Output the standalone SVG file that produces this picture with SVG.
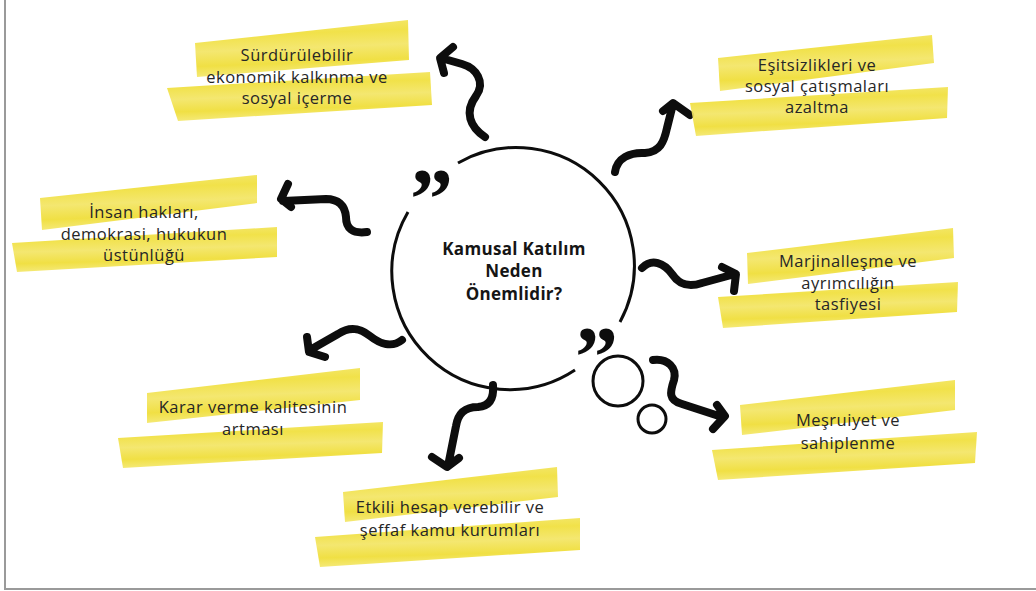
<svg xmlns="http://www.w3.org/2000/svg" width="1036" height="591" viewBox="0 0 1036 591">
<defs>
<linearGradient id="brush" x1="0" y1="0" x2="0.15" y2="1">
<stop offset="0" stop-color="#f4e76e"/>
<stop offset="0.3" stop-color="#f0df3a"/>
<stop offset="0.55" stop-color="#f3e564"/>
<stop offset="0.8" stop-color="#efdd34"/>
<stop offset="1" stop-color="#f4e86f"/>
</linearGradient>
</defs>
<style>
.band{fill:url(#brush);opacity:.92}
.lbl{font-family:"Open Sans","Noto Sans",sans-serif;font-size:16.5px;letter-spacing:.5px;fill:#262626;text-anchor:middle}
.ctr{font-family:"Open Sans","Noto Sans",sans-serif;font-size:17px;font-weight:bold;letter-spacing:.3px;fill:#151515;text-anchor:middle}
.arr{fill:none;stroke:#0d0d0d;stroke-width:8;stroke-linecap:round;stroke-linejoin:round}
.ring{fill:none;stroke:#0d0d0d;stroke-width:3}
.quote{font-family:"Liberation Serif",serif;font-weight:bold;font-size:86px;fill:#0d0d0d}
</style>
<rect width="1036" height="591" fill="#fff"/>
<path d="M5 0 V589 H1036" fill="none" stroke="#9a9a9a" stroke-width="2"/>

<g id="center">
<path class="ring" d="M458 163 A118 118 0 0 1 620 322"/>
<path class="ring" d="M575 370 A118 118 0 0 1 408 212"/>
<text class="quote" x="410" y="228">”</text>
<text class="quote" x="575" y="386">”</text>
<circle class="ring" cx="618" cy="381" r="25"/>
<circle class="ring" cx="652" cy="419" r="14"/>
<text class="ctr" x="514" y="255">Kamusal Katılım</text>
<text class="ctr" x="514" y="277">Neden</text>
<text class="ctr" x="514" y="300">Önemlidir?</text>
</g>

<g id="connectors">
<path class="arr" d="M485 137 C470 127 464 112 476 96 C486 82 476 68 462 64 L441 58 M453 47 L440 58 L444 73"/>
<path class="arr" d="M615 172 C617 158 630 152 645 153 C660 152 664 142 667 128 L673 104 M663 111 L673 103 L690 115"/>
<path class="arr" d="M367 232 C352 234 346 228 346 217 C345 205 338 199 326 199 L283 201 M288 184 L281 199 L291 207"/>
<path class="arr" d="M642 268 C652 258 664 263 672 274 C680 286 690 287 702 283 L735 274 M722 267 L736 274 L734 291"/>
<path class="arr" d="M402 340 C392 348 380 344 370 336 C360 328 350 326 338 334 L310 350 M307 337 L309 352 L325 357"/>
<path class="arr" d="M493 385 C494 398 490 406 478 407 C464 407 458 414 456 426 L448 466 M432 457 L447 467 L459 458"/>
<path class="arr" d="M653 360 C668 358 677 368 674 380 C670 392 668 400 682 404 L722 417 M717 405 L725 416 L713 429"/>
</g>

<g id="node-surdurulebilir">
<polygon class="band" points="195,43 408,20 409,60 197,77"/>
<polygon class="band" points="167,88 430,72 432,105 178,121"/>
<text class="lbl" x="297" y="61">Sürdürülebilir</text>
<text class="lbl" x="297" y="83">ekonomik kalkınma ve</text>
<text class="lbl" x="297" y="104">sosyal içerme</text>
</g>

<g id="node-esitsizlik">
<polygon class="band" points="718,58 932,35 934,63 720,91"/>
<polygon class="band" points="690,103 948,87 947,118 696,136"/>
<text class="lbl" x="817" y="71">Eşitsizlikleri ve</text>
<text class="lbl" x="817" y="92">sosyal çatışmaları</text>
<text class="lbl" x="817" y="113">azaltma</text>
</g>

<g id="node-insan">
<polygon class="band" points="40,198 257,175 257,203 42,230"/>
<polygon class="band" points="12,243 277,227 277,257 17,272"/>
<text class="lbl" x="144" y="218">İnsan hakları,</text>
<text class="lbl" x="144" y="240">demokrasi, hukukun</text>
<text class="lbl" x="144" y="261">üstünlüğü</text>
</g>

<g id="node-marjinal">
<polygon class="band" points="747,253 953,228 954,258 748,284"/>
<polygon class="band" points="718,297 958,282 957,312 723,328"/>
<text class="lbl" x="848" y="267">Marjinalleşme ve</text>
<text class="lbl" x="848" y="289">ayrımcılığın</text>
<text class="lbl" x="848" y="310">tasfiyesi</text>
</g>

<g id="node-karar">
<polygon class="band" points="147,393 360,368 360,400 147,423"/>
<polygon class="band" points="118,438 383,422 382,453 123,468"/>
<text class="lbl" x="253" y="413">Karar verme kalitesinin</text>
<text class="lbl" x="253" y="435">artması</text>
</g>

<g id="node-etkili">
<polygon class="band" points="343,492 557,467 558,497 345,522"/>
<polygon class="band" points="315,537 580,518 580,550 320,567"/>
<text class="lbl" x="450" y="513">Etkili hesap verebilir ve</text>
<text class="lbl" x="450" y="536">şeffaf kamu kurumları</text>
</g>

<g id="node-mesruiyet">
<polygon class="band" points="740,405 955,380 955,410 742,435"/>
<polygon class="band" points="712,450 977,432 975,463 718,480"/>
<text class="lbl" x="848" y="426">Meşruiyet ve</text>
<text class="lbl" x="848" y="449">sahiplenme</text>
</g>
</svg>
